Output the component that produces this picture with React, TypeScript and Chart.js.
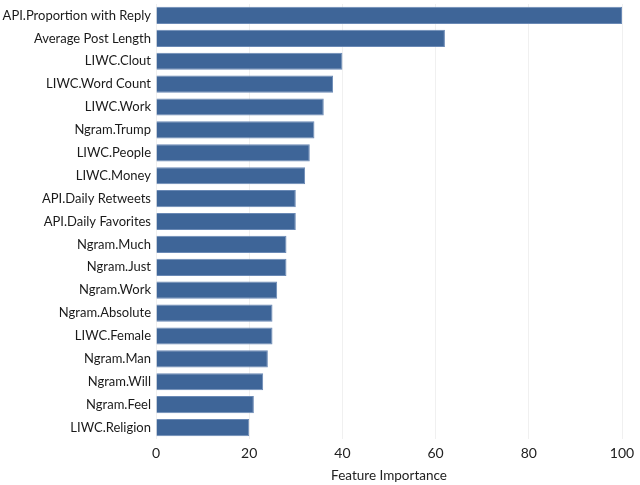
import React, { useEffect, useRef } from 'react';
import { Chart, registerables } from 'chart.js';

Chart.register(...registerables);

const features = [
  'API.Proportion with Reply',
  'Average Post Length',
  'LIWC.Clout',
  'LIWC.Word Count',
  'LIWC.Work',
  'Ngram.Trump',
  'LIWC.People',
  'LIWC.Money',
  'API.Daily Retweets',
  'API.Daily Favorites',
  'Ngram.Much',
  'Ngram.Just',
  'Ngram.Work',
  'Ngram.Absolute',
  'LIWC.Female',
  'Ngram.Man',
  'Ngram.Will',
  'Ngram.Feel',
  'LIWC.Religion',
];

const importance = [100, 62, 40, 38, 36, 34, 33, 32, 30, 30, 28, 28, 26, 25, 25, 24, 23, 21, 20];

const xTicks = [0, 20, 40, 60, 80, 100];

const FONT = 'Lato, "Open Sans", sans-serif';

const App: React.FC = () => {
  const canvasRef = useRef<HTMLCanvasElement>(null);

  useEffect(() => {
    document.body.style.margin = '0';
    if (!canvasRef.current) return;

    const chart = new Chart(canvasRef.current, {
      type: 'bar',
      data: {
        labels: features,
        datasets: [
          {
            data: importance,
            backgroundColor: '#3e6598',
            borderColor: '#6a89b5',
            borderWidth: 1,
            categoryPercentage: 0.75,
            barPercentage: 1,
          },
        ],
      },
      options: {
        indexAxis: 'y',
        animation: false,
        responsive: true,
        maintainAspectRatio: false,
        layout: { padding: { top: 4, right: 18, left: 0, bottom: 0 } },
        plugins: {
          legend: { display: false },
          tooltip: { enabled: false },
        },
        scales: {
          x: {
            min: 0,
            max: 100,
            afterBuildTicks: (scale: any) => {
              scale.ticks = xTicks.map((v) => ({ value: v }));
            },
            afterFit: (scale: any) => {
              scale.height = 46;
              scale.paddingLeft = 0;
              scale.paddingRight = 0;
            },
            grid: { color: '#f0f0f0', drawTicks: false },
            border: { display: false },
            ticks: {
              padding: 6,
              color: '#222',
              font: { family: FONT, size: 14 },
            },
            title: {
              display: true,
              text: 'Feature Importance',
              color: '#222',
              padding: { top: 4, bottom: 1 },
              font: { family: FONT, size: 13.5 },
            },
          },
          y: {
            afterFit: (scale: any) => {
              scale.width = 156;
              scale.paddingTop = 0;
              scale.paddingBottom = 0;
            },
            grid: { display: false, drawTicks: false },
            border: { display: false },
            ticks: {
              padding: 5,
              color: '#1a1a1a',
              autoSkip: false,
              font: { family: FONT, size: 13 },
            },
          },
        },
      },
    });

    return () => chart.destroy();
  }, []);

  return (
    <div style={{ width: 640, height: 485, position: 'relative' }}>
      <canvas ref={canvasRef}></canvas>
    </div>
  );
};

export default App;
